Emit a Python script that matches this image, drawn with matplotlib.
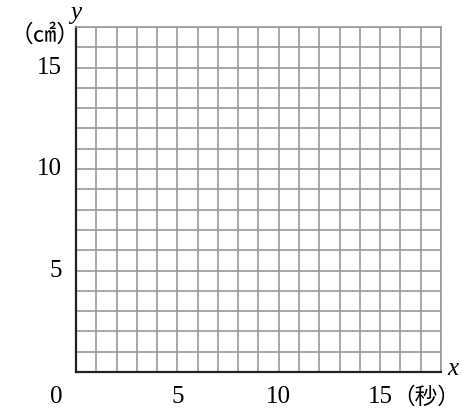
import matplotlib
matplotlib.use("Agg")
import matplotlib.pyplot as plt

x_max = 18
y_max = 17
x_labels = [5, 10, 15]
y_labels = [5, 10, 15]
x_unit = "（秒）"
y_unit = "（㎠）"

serif = ["Liberation Serif", "DejaVu Serif"]
cjk = ["Noto Sans CJK JP", "DejaVu Sans"]

fig = plt.figure(figsize=(4.62, 4.08), dpi=100)
ax = fig.add_axes([0.1645, 0.0882, 0.790, 0.8456])
ax.set_xlim(0, x_max)
ax.set_ylim(0, y_max)
ax.set_xticks(range(x_max + 1))
ax.set_yticks(range(y_max + 1))
ax.grid(True, color="#9a9a9a", linewidth=1.2)
ax.tick_params(length=0, labelbottom=False, labelleft=False)
for s in ["top", "right"]:
    ax.spines[s].set_color("#9a9a9a")
    ax.spines[s].set_linewidth(1.2)
for s in ["left", "bottom"]:
    ax.spines[s].set_color("#222222")
    ax.spines[s].set_linewidth(1.6)

fs = 18
ax.text(-0.99, -1.23, "0", family=serif, fontsize=fs, ha="center", va="center", clip_on=False)
for v in x_labels:
    ax.text(v, -1.23, str(v), family=serif, fontsize=fs, ha="center", va="center", clip_on=False)
ax.text(18.96, -1.25, x_unit, family=cjk, fontsize=16.3, ha="right", va="center", clip_on=False)
for v in y_labels:
    ax.text(-0.7, v, str(v), family=serif, fontsize=fs, ha="right", va="center", clip_on=False)
ax.text(-1.52, 16.6, y_unit, family=cjk, fontsize=17, ha="center", va="center", clip_on=False)
ax.text(0, 17.68, "y", family=serif, style="italic", fontsize=fs, ha="center", va="center", clip_on=False)
ax.text(18.57, 0.15, "x", family=serif, style="italic", fontsize=fs, ha="center", va="center", clip_on=False)

fig.savefig("out.png", dpi=100)
